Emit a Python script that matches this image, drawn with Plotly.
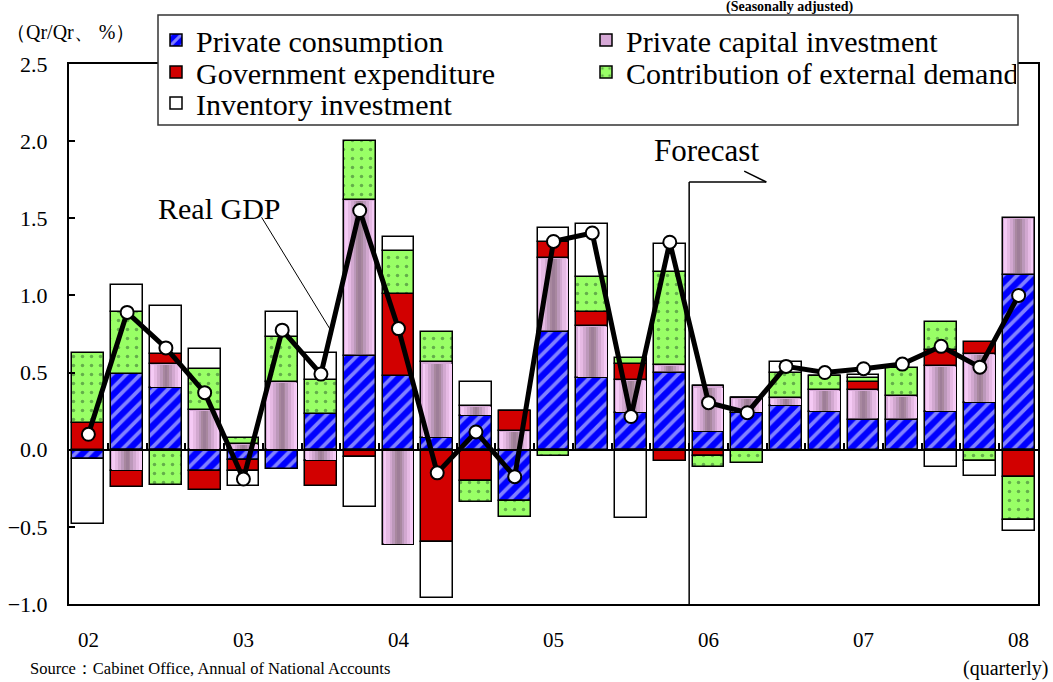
import plotly.graph_objects as go

# ---------------- data ----------------
quarters = ["02Q1", "02Q2", "02Q3", "02Q4", "03Q1", "03Q2", "03Q3", "03Q4",
            "04Q1", "04Q2", "04Q3", "04Q4", "05Q1", "05Q2", "05Q3", "05Q4",
            "06Q1", "06Q2", "06Q3", "06Q4", "07Q1", "07Q2", "07Q3", "07Q4", "08Q1"]

private_consumption = [-0.06, 0.49, 0.40, -0.14, -0.065, -0.125, 0.23, 0.61,
                       0.48, 0.076, 0.22, -0.335, 0.765, 0.465, 0.235, 0.50,
                       0.115, 0.235, 0.285, 0.245, 0.195, 0.195, 0.245, 0.30, 1.135]
private_capital = [0.0, -0.14, 0.155, 0.26, 0.04, 0.44, -0.076, 1.01,
                   -0.62, 0.49, 0.065, 0.12, 0.48, 0.34, 0.22, 0.05,
                   0.295, 0.10, 0.05, 0.145, 0.195, 0.155, 0.30, 0.32, 0.365]
government = [0.17, -0.10, 0.065, -0.12, -0.075, 0.0, -0.157, -0.05,
              0.53, -0.60, -0.205, 0.13, 0.10, 0.09, 0.10, -0.075,
              -0.04, 0.0, 0.0, 0.0, 0.05, 0.0, 0.10, 0.08, -0.18]
external = [0.46, 0.40, -0.23, 0.26, 0.035, 0.29, 0.22, 0.38,
            0.28, 0.20, -0.135, -0.10, -0.04, 0.225, 0.04, 0.60,
            -0.075, -0.085, 0.16, 0.085, 0.025, 0.18, 0.18, -0.075, -0.275]
inventory = [-0.42, 0.18, 0.31, 0.13, -0.095, 0.165, 0.18, -0.32,
             0.09, -0.36, 0.155, 0.0, 0.095, 0.345, -0.44, 0.185,
             0.0, 0.0, 0.075, 0.0, 0.02, -0.01, -0.115, -0.095, -0.075]
real_gdp = [0.10, 0.89, 0.66, 0.37, -0.19, 0.775, 0.49, 1.55,
            0.785, -0.15, 0.115, -0.175, 1.35, 1.405, 0.215, 1.345,
            0.305, 0.24, 0.54, 0.50, 0.525, 0.555, 0.67, 0.535, 1.0]

year_tick_labels = ["02", "03", "04", "05", "06", "07", "08"]

series_names = ["Private consumption", "Private capital investment",
                "Government expenditure", "Contribution of external demand",
                "Inventory investment"]

# ---------------- styling ----------------
FONT = "Liberation Serif"
W, H = 1053, 682
L, R, T, B = 69, 15, 64, 78
PW, PH = W - L - R, H - T - B
Y_MIN, Y_MAX = -1.0, 2.5


def px_x(p):
    return (p - L) / PW


def px_y(p):
    return (H - B - p) / PH


xpos = list(range(len(quarters)))
n = len(quarters)
bar_w = 0.82
outline = dict(color="black", width=1.5)

styles = [
    dict(color="#0000FF", pattern=dict(shape="/", fgcolor="white", bgcolor="#0000FF",
                                       size=10, solidity=0.38, fillmode="overlay")),
    dict(color="#D6A8D6"),
    dict(color="#D20000"),
    dict(color="#99FF66", pattern=dict(shape=".", fgcolor="#2E5E2E", bgcolor="#99FF66",
                                       size=9, solidity=0.12, fillmode="overlay")),
    dict(color="white"),
]
legend_ids = ["legend", "legend", "legend2", "legend2", "legend3"]
values = [private_consumption, private_capital, government, external, inventory]

fig = go.Figure()
for name, vals, st, lg in zip(series_names, values, styles, legend_ids):
    marker = dict(color=st["color"], line=outline)
    if "pattern" in st:
        marker["pattern"] = st["pattern"]
    fig.add_trace(go.Bar(x=xpos, y=vals, name=name, width=bar_w, marker=marker,
                         legend=lg, hoverinfo="skip"))

# cylinder-like shading of the capital-investment segments (overlay bars with base)
unit_px = PH / (Y_MAX - Y_MIN)
eps = 1.2 / unit_px
seg_base, seg_len = [], []
for pc, v in zip(private_consumption, private_capital):
    if abs(v) <= 2 * eps:
        seg_base.append(None)
        seg_len.append(None)
    elif v > 0:
        seg_base.append(max(pc, 0) + eps)
        seg_len.append(v - 2 * eps)
    else:
        seg_base.append(min(pc, 0) - eps)
        seg_len.append(v + 2 * eps)

shade_layers = [(bar_w - 2.4 / (PW / n), "#F5CAF5"), (0.62, "#E6BAE4"),
                (0.46, "#D2A8D0"), (0.31, "#BC98BA"), (0.17, "#A8889F"), (0.07, "#9E7E98")]
for wdt, col in shade_layers:
    fig.add_trace(go.Bar(x=xpos, y=seg_len, base=seg_base, width=wdt,
                         marker=dict(color=col, line=dict(width=0)),
                         showlegend=False, hoverinfo="skip"))

fig.add_trace(go.Scatter(x=xpos, y=real_gdp, mode="lines+markers", name="Real GDP",
                         line=dict(color="black", width=5),
                         marker=dict(size=13, color="white", line=dict(color="black", width=2)),
                         showlegend=False))

# dummy trace for the zero-line axis
fig.add_trace(go.Scatter(x=[0], y=[0], xaxis="x2", yaxis="y", mode="markers",
                         marker=dict(opacity=0), showlegend=False, hoverinfo="skip"))

year_ticks = list(range(0, n, 4))

fig.update_layout(
    width=W, height=H,
    margin=dict(l=L, r=R, t=T, b=B, autoexpand=False),
    paper_bgcolor="white", plot_bgcolor="white",
    barmode="relative", bargap=0,
    font=dict(family=FONT, color="black", size=20),
    xaxis=dict(range=[-0.5, n - 0.5], tickvals=year_ticks, ticktext=year_tick_labels,
               ticks="", showline=True, mirror=True, linecolor="black", linewidth=2,
               showgrid=False, zeroline=False, ticklabelstandoff=16, automargin=False,
               tickfont=dict(family=FONT, size=21)),
    xaxis2=dict(range=[-0.5, n - 0.5], overlaying="x", anchor="free",
                position=(0 - Y_MIN) / (Y_MAX - Y_MIN),
                tickvals=[i - 0.5 for i in range(n + 1)], ticks="inside", ticklen=6,
                tickwidth=1.5, tickcolor="black", showticklabels=False, automargin=False,
                showline=True, linecolor="black", linewidth=2, showgrid=False, zeroline=False),
    yaxis=dict(range=[Y_MIN, Y_MAX], dtick=0.5, tickformat=".1f", ticks="inside", ticklen=6,
               tickwidth=1.5, tickcolor="black", showline=True, mirror=True,
               linecolor="black", linewidth=2, showgrid=False, zeroline=False,
               ticklabelstandoff=15, automargin=False, tickfont=dict(family=FONT, size=22)),
)

leg_common = dict(orientation="h", xanchor="left", yanchor="middle",
                  bgcolor="rgba(0,0,0,0)", borderwidth=0, entrywidth=385,
                  font=dict(family=FONT, size=30, color="black"), traceorder="normal")
fig.update_layout(
    legend=dict(x=px_x(156), y=px_y(40), **leg_common),
    legend2=dict(x=px_x(156), y=px_y(72), **leg_common),
    legend3=dict(x=px_x(156), y=px_y(103), **leg_common),
)

shapes = [
    # legend frame
    dict(type="rect", xref="paper", yref="paper", x0=px_x(158), x1=px_x(1018),
         y0=px_y(125), y1=px_y(15), fillcolor="white", line=dict(color="#333333", width=1.5),
         layer="above"),
    # Real GDP leader line
    dict(type="line", xref="x", yref="y", x0=4.47, y0=1.506, x1=6.245, y1=0.777,
         line=dict(color="black", width=1)),
    # Forecast divider
    dict(type="line", xref="x", yref="y", x0=15.5, y0=-1, x1=15.5, y1=1.735,
         line=dict(color="black", width=1.5), layer="above"),
    dict(type="line", xref="x", yref="y", x0=15.5, y0=1.735, x1=17.49, y1=1.735,
         line=dict(color="black", width=1.5), layer="above"),
    dict(type="line", xref="x", yref="y", x0=16.92, y0=1.806, x1=17.49, y1=1.735,
         line=dict(color="black", width=1.5), layer="above"),
]
fig.update_layout(shapes=shapes)

annotations = [
    dict(text="<b>(Seasonally adjusted)</b>", xref="paper", yref="paper",
         x=px_x(790), y=px_y(7), xanchor="center", yanchor="middle", showarrow=False,
         font=dict(family=FONT, size=14)),
    dict(text="（Qr/Qr、 %）", xref="paper", yref="paper", x=px_x(70), y=px_y(32),
         xanchor="center", yanchor="middle", showarrow=False, font=dict(family=FONT, size=20)),
    dict(text="Real GDP", xref="x", yref="y", x=3.37, y=1.566, showarrow=False,
         font=dict(family=FONT, size=30)),
    dict(text="Forecast", xref="x", yref="y", x=15.95, y=1.94, showarrow=False,
         font=dict(family=FONT, size=31)),
    dict(text="Source：Cabinet Office, Annual of National Accounts", xref="paper", yref="paper",
         x=px_x(28), y=px_y(668), xanchor="left", yanchor="middle", showarrow=False,
         font=dict(family=FONT, size=16.5)),
    dict(text="(quarterly)", xref="paper", yref="paper", x=px_x(1051), y=px_y(668),
         xanchor="right", yanchor="middle", showarrow=False, font=dict(family=FONT, size=20)),
]
fig.update_layout(annotations=annotations)

fig.write_html("out.html")
